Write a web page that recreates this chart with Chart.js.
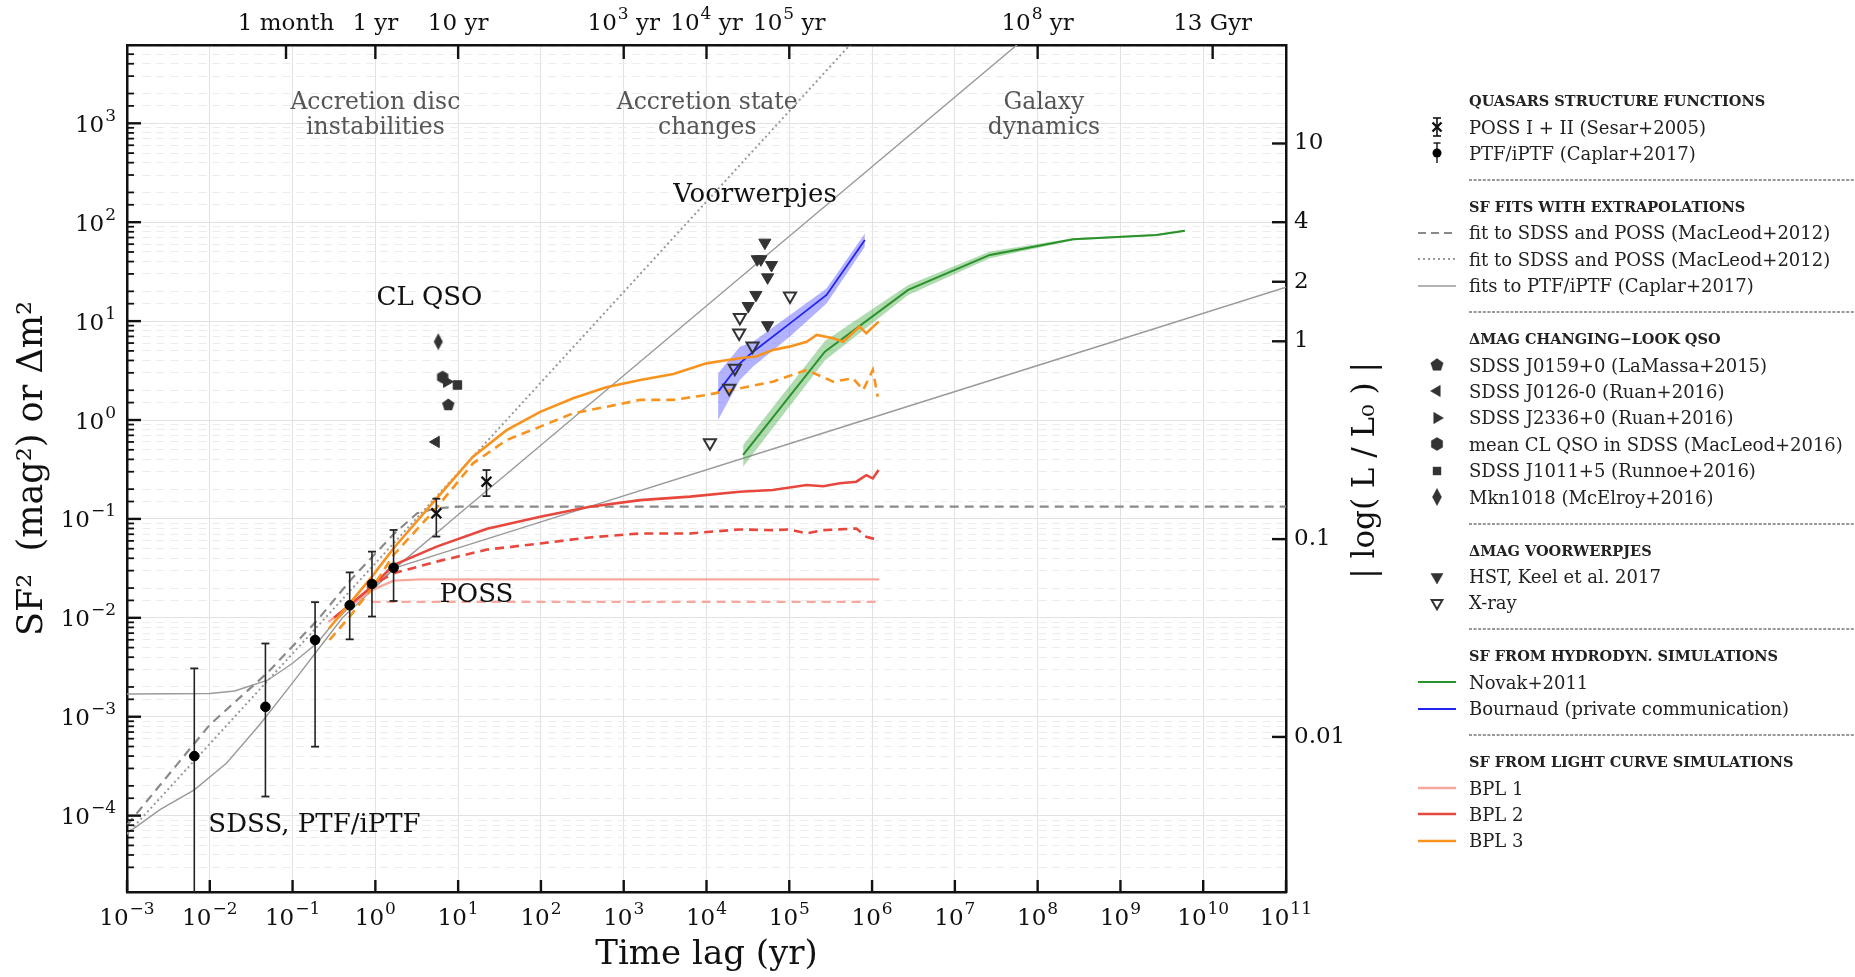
<!DOCTYPE html>
<html>
<head>
<meta charset="utf-8">
<title>Structure functions</title>
<script src="https://cdn.jsdelivr.net/npm/chart.js@4.4.1/dist/chart.umd.min.js"></script>
<style>
  body { margin: 0; background: #fff; }
  #wrap { position: relative; width: 1855px; height: 977px; overflow: hidden; }
  #legend { position: absolute; left: 0; top: 0; font-family: 'DejaVu Serif', serif; color: #222; }
  .row { position: absolute; left: 1414px; height: 26px; display: flex; align-items: center; white-space: nowrap; }
  .row svg.sym { width: 43px; height: 26px; margin-right: 12px; flex: none; }
  .row .txt { font-size: 18px; }
  .row .hdr { font-size: 14.5px; font-weight: bold; margin-left: 55px; }
  .row .sep { margin-left: 55px; }
</style>
</head>
<body>
<div id="wrap">
  <canvas id="sfChart" width="1855" height="977"></canvas>
  <div id="legend"></div>
</div>
<script>
// ============================================================
// Structure function vs. time lag — quasars, CL QSOs, voorwerpjes
// x: time lag (yr), y: SF^2 (mag^2) or dm^2, both logarithmic
// ============================================================

/* ── Axis ranges & ticks ─────────────────────────────────── */
const lagMin = 1e-3, lagMax = 1e11;
const sfMin = 1.69e-5, sfMax = 6190;
const topTickYears  = [1 / 12, 1, 10, 1e3, 1e4, 1e5, 1e8, 1.3e10];
const topTickLabels = ["1 month", "1 yr", "10 yr", "10^3 yr", "10^4 yr", "10^5 yr", "10^8 yr", "13 Gyr"];
const rightTickLogL   = [0.01, 0.1, 1, 2, 4, 10];      // |log(L/L0)|, dm = 2.5 log(L/L0)
const rightTickLabels = ["0.01", "0.1", "1", "2", "4", "10"];

/* ── Measured structure functions ────────────────────────── */
// PTF/iPTF (Caplar+2017)
const ptfLag = [0.0065, 0.047, 0.187, 0.49, 0.91, 1.66];
const ptfSF2 = [4.0e-4, 1.26e-3, 5.97e-3, 0.0134, 0.022, 0.0321];
const ptfLo  = [1e-6, 1.56e-4, 4.98e-4, 6.06e-3, 0.0103, 0.0148];   // first bar runs off the axis
const ptfHi  = [3.08e-3, 5.5e-3, 0.0144, 0.0288, 0.0467, 0.0773];
// POSS I + II (Sesar+2005)
const possLag = [5.45, 22];
const possSF2 = [0.114, 0.238];
const possLo  = [0.0663, 0.170];
const possHi  = [0.160, 0.312];

/* ── SF fits with extrapolations ─────────────────────────── */
const macDashLag = [1e-3, 0.01, 0.05, 0.2, 0.5, 1, 1.7, 3.2, 5.5, 10, 1e11];
const macDashSF2 = [8.0e-5, 8.3e-4, 2.8e-3, 9.5e-3, 0.024, 0.0447, 0.0715, 0.114, 0.128, 0.133, 0.133];
const macDotLag  = [1e-3, 1, 1e6];
const macDotSF2  = [6.5e-5, 0.0356, 1.09e4];
const caplarALag = [1e-3, 2.5e-3, 6.5e-3, 0.016, 0.04, 0.1, 0.2, 0.4, 1, 1.66, 10, 1e3, 1e5, 1e8];
const caplarASF2 = [6.6e-5, 1.15e-4, 1.82e-4, 3.4e-4, 8.3e-4, 2.2e-3, 4.7e-3, 0.010, 0.0204, 0.0309, 0.110, 2.82, 72, 9300];
const caplarBLag = [1e-3, 0.01, 0.02, 0.05, 0.1, 0.2, 0.3, 0.5, 1, 1.66, 100, 1e5, 1e8, 1e11];
const caplarBSF2 = [1.7e-3, 1.72e-3, 1.82e-3, 2.34e-3, 3.47e-3, 5.6e-3, 8.5e-3, 0.0132, 0.0209, 0.0316, 0.0933, 0.575, 3.56, 22.0];

/* ── Changing-look QSOs (dm^2) ───────────────────────────── */
// order: J0159 pentagon, J0126 left tri, J2336 right tri, mean CL hexagon, J1011 square, Mkn1018 diamond
const clLag = [7.6, 5.4, 7.3, 6.5, 9.8, 5.76];
const clDm2 = [1.42, 0.60, 2.44, 2.71, 2.26, 6.2];

/* ── Voorwerpjes (dm^2) ──────────────────────────────────── */
const hstLag  = [5.07e4, 4.1e4, 4.54e4, 6.1e4, 5.47e4, 3.95e4, 3.19e4, 5.47e4];
const hstDm2  = [62.1, 42.2, 42.2, 36.9, 27.7, 18.4, 14.2, 9.1];
const xrayLag = [1.02e5, 2.53e4, 2.48e4, 3.6e4, 2.2e4, 1.88e4, 1.1e4];
const xrayDm2 = [17.9, 10.9, 7.6, 5.6, 3.33, 2.09, 0.59];

/* ── Hydrodynamical simulations ──────────────────────────── */
const novakLag = [2.77e4, 2.69e5, 2.73e6, 2.65e7, 2.69e8, 2.73e9, 6.0e9];
const novakSF2 = [0.443, 4.90, 20.7, 46.7, 67.3, 74.1, 82.0];
const novakHi  = [0.558, 6.3, 23.2, 50.5, 68.9, 75.9, 83.9];
const novakLo  = [0.337, 4.0, 18.4, 43.2, 65.8, 72.4, 80.2];
const bournaudLag = [1.38e4, 2.53e4, 3.66e4, 1.02e5, 2.82e5, 8.18e5];
const bournaudSF2 = [1.93, 3.74, 4.90, 9.48, 18.4, 66.1];
const bournaudHi  = [2.95, 5.50, 6.17, 11.5, 21.4, 77.1];
const bournaudLo  = [1.0, 2.54, 3.47, 6.97, 15.1, 56.6];

/* ── Light curve simulations (solid = SDSS-like, dashed = POSS-like) ── */
const bpl1Lag = [0.27, 0.49, 0.91, 1.66, 3.5, 1.22e6];
const bpl1SF2 = [9.1e-3, 0.013, 0.0191, 0.0238, 0.0245, 0.0245];
const bpl1DashLag = [0.9, 1.22e6];
const bpl1DashSF2 = [0.0145, 0.0145];
const bpl2Lag = [0.316, 0.49, 0.91, 1.66, 5.5, 22.4, 98, 389, 1585, 6310, 2.51e4, 6.3e4, 1.62e5, 2.57e5, 4.07e5, 6.46e5, 8.5e5, 1.02e6, 1.2e6];
const bpl2SF2 = [0.0100, 0.0135, 0.0207, 0.0342, 0.0525, 0.0794, 0.105, 0.133, 0.155, 0.168, 0.188, 0.196, 0.220, 0.214, 0.229, 0.238, 0.277, 0.257, 0.312];
const bpl2DashLag = [0.79, 1.66, 5.5, 22.4, 98, 389, 1585, 6310, 2.51e4, 6.3e4, 1e5, 1.62e5, 2.57e5, 6.46e5, 8.5e5, 1.2e6];
const bpl2DashSF2 = [0.020, 0.0282, 0.037, 0.049, 0.0565, 0.065, 0.0713, 0.0713, 0.0783, 0.077, 0.0783, 0.0713, 0.077, 0.080, 0.066, 0.061];
const bpl3Lag = [0.275, 0.49, 0.91, 1.66, 5.5, 15.1, 38.5, 98, 245, 617, 1585, 3980, 1e4, 1.58e4, 2.51e4, 3.98e4, 6.3e4, 1e5, 1.62e5, 2.14e5, 3.39e5, 4.47e5, 7.08e5, 8.5e5, 1.2e6];
const bpl3SF2 = [7.8e-3, 0.0140, 0.0261, 0.0505, 0.161, 0.426, 0.79, 1.21, 1.66, 2.14, 2.54, 2.92, 3.74, 3.98, 4.21, 4.38, 5.1, 5.52, 6.19, 7.24, 6.70, 6.19, 8.79, 7.53, 9.89];
const bpl3DashLag = [0.279, 0.49, 0.91, 1.66, 5.5, 15.1, 38.5, 98, 245, 617, 1585, 3980, 1e4, 2.51e4, 6.3e4, 1.62e5, 3.39e5, 5.9e5, 7.8e5, 1.02e6, 1.17e6];
const bpl3DashSF2 = [5.97e-3, 0.0103, 0.0199, 0.0432, 0.130, 0.365, 0.628, 0.857, 1.17, 1.36, 1.60, 1.60, 1.79, 2.09, 2.44, 3.21, 2.44, 2.64, 2.01, 3.21, 1.72];

/* ── In-plot labels ──────────────────────────────────────── */
const annotLag  = [1.0, 1.02e4, 1.19e8, 3.85e4, 4.5, 16.6, 0.184];
const annotSF2  = [1600, 1600, 1600, 188, 17, 0.0170, 8.05e-5];
const annotText = [["Accretion disc", "instabilities"], ["Accretion state", "changes"], ["Galaxy", "dynamics"],
                   ["Voorwerpjes"], ["CL QSO"], ["POSS"], ["SDSS, PTF/iPTF"]];
const annotGray = [true, true, true, false, false, false, false];

/* ── Helpers ─────────────────────────────────────────────── */
const FONT = "'DejaVu Serif', serif";
const isDecade = v => Math.abs(Math.log10(v) - Math.round(Math.log10(v))) < 1e-6;
const pts = (xs, ys) => xs.map((x, i) => ({ x, y: ys[i] }));

const ORANGE = "#f7931e", RED = "#e8473d", SALMON = "#f8a79e", GREEN = "#2a922a", BLUE = "#2323f0";
const GRAY = "#9a9a9a", MARK = "#333";

function lineDs(xs, ys, color, width, dash, order) {
  return { data: pts(xs, ys), showLine: true, borderColor: color, borderWidth: width, borderDash: dash || [],
           pointRadius: 0, fill: false, tension: 0, order };
}
function bandDs(xs, hi, lo, color, order) {
  return [
    { data: pts(xs, hi), showLine: true, borderWidth: 0, pointRadius: 0, backgroundColor: color, fill: "+1", order },
    { data: pts(xs, lo), showLine: true, borderWidth: 0, pointRadius: 0, fill: false, order }
  ];
}
function errBars(xs, lo, hi) {
  return xs.map((t, i) => ({ data: [{ x: t, y: lo[i] }, { x: t, y: hi[i] }], showLine: true, borderColor: "#222",
                            borderWidth: 1.6, pointRadius: 0, order: 1 }));
}
function capsDs(xs, lo, hi) {
  return { data: [...pts(xs, lo), ...pts(xs, hi)], pointStyle: "line", pointRadius: 4, pointBorderWidth: 1.8,
           pointBorderColor: "#222", borderColor: "#222", showLine: false, order: 1 };
}
function markDs(xs, ys, style, radius, rotation, open) {
  return { data: pts(xs, ys), pointStyle: style, pointRadius: radius, pointRotation: rotation || 0,
           pointBackgroundColor: open ? "rgba(0,0,0,0)" : MARK, backgroundColor: open ? "rgba(0,0,0,0)" : MARK,
           pointBorderColor: MARK, borderColor: MARK, pointBorderWidth: open ? 2 : 1, showLine: false, order: 0 };
}
// filled polygon marker drawn on a small canvas (pentagon / hexagon / thin diamond)
function polyMarker(n, rx, ry) {
  const c = document.createElement("canvas");
  c.width = c.height = 2 * Math.ceil(Math.max(rx, ry)) + 2;
  const g = c.getContext("2d");
  g.fillStyle = MARK;
  g.beginPath();
  for (let k = 0; k < n; k++) {
    const a = 2 * Math.PI * k / n;
    g.lineTo(c.width / 2 + rx * Math.sin(a), c.height / 2 - ry * Math.cos(a));
  }
  g.closePath();
  g.fill();
  return c;
}

/* ── Datasets ────────────────────────────────────────────── */
const datasets = [
  // CL QSO markers
  markDs([clLag[0]], [clDm2[0]], polyMarker(5, 6.5, 6.5), 6),
  markDs([clLag[1]], [clDm2[1]], "triangle", 6.5, 270),
  markDs([clLag[2]], [clDm2[2]], "triangle", 6.5, 90),
  markDs([clLag[3]], [clDm2[3]], polyMarker(6, 6.5, 6.5), 6),
  markDs([clLag[4]], [clDm2[4]], "rect", 6),
  markDs([clLag[5]], [clDm2[5]], polyMarker(4, 4.5, 8.5), 8),
  // voorwerpjes
  markDs(hstLag, hstDm2, "triangle", 7, 180),
  markDs(xrayLag, xrayDm2, "triangle", 7, 180, true),
  // measured SFs
  { data: pts(ptfLag, ptfSF2), pointStyle: "circle", pointRadius: 4.8, pointBackgroundColor: "#000",
    pointBorderColor: "#000", backgroundColor: "#000", borderColor: "#000", showLine: false, order: 0 },
  { data: pts(possLag, possSF2), pointStyle: "crossRot", pointRadius: 7, pointBorderWidth: 2.4,
    pointBorderColor: "#111", borderColor: "#111", showLine: false, order: 0 },
  capsDs(ptfLag, ptfLo, ptfHi),
  capsDs(possLag, possLo, possHi),
  ...errBars(ptfLag, ptfLo, ptfHi),
  ...errBars(possLag, possLo, possHi),
  // light curve simulations
  lineDs(bpl3Lag, bpl3SF2, ORANGE, 2.6, [], 3),
  lineDs(bpl3DashLag, bpl3DashSF2, ORANGE, 2.6, [9, 6], 3),
  lineDs(bpl2Lag, bpl2SF2, RED, 2.6, [], 4),
  lineDs(bpl2DashLag, bpl2DashSF2, RED, 2.6, [9, 6], 4),
  lineDs(bpl1Lag, bpl1SF2, SALMON, 2.4, [], 5),
  lineDs(bpl1DashLag, bpl1DashSF2, SALMON, 2.4, [9, 6], 5),
  // hydro simulations
  lineDs(bournaudLag, bournaudSF2, BLUE, 1.8, [], 6),
  lineDs(novakLag, novakSF2, GREEN, 2, [], 6),
  ...bandDs(bournaudLag, bournaudHi, bournaudLo, "rgba(95,95,255,0.48)", 7),
  ...bandDs(novakLag, novakHi, novakLo, "rgba(70,170,70,0.42)", 7),
  // fits
  lineDs(macDashLag, macDashSF2, "#8a8a8a", 2.2, [9, 6], 8),
  lineDs(macDotLag, macDotSF2, GRAY, 2, [2, 3], 8),
  lineDs(caplarALag, caplarASF2, GRAY, 1.4, [], 8),
  lineDs(caplarBLag, caplarBSF2, GRAY, 1.4, [], 8)
];

/* ── Tick labels with raised exponents ("10^-3", "10^5 yr") ─ */
function drawPowerLabel(ctx, text, x, y, align) {
  const m = text.match(/^(.*?)\^(\S+)(.*)$/);
  const base = m ? m[1] : text, exp = m ? m[2].replace("-", "−") : "", tail = m ? m[3] : "";
  const big = "23px " + FONT, small = "17px " + FONT;
  ctx.font = big;
  const wBase = ctx.measureText(base).width, wTail = ctx.measureText(tail).width;
  ctx.font = small;
  const wExp = exp ? ctx.measureText(exp).width + 1 : 0;
  const total = wBase + wExp + wTail;
  let x0 = align === "right" ? x - total : x - total / 2;
  ctx.textAlign = "left";
  ctx.textBaseline = "alphabetic";
  ctx.font = big;
  ctx.fillText(base, x0, y);
  if (exp) {
    ctx.font = small;
    ctx.fillText(exp, x0 + wBase + 1, y - 11);
  }
  ctx.font = big;
  ctx.fillText(tail, x0 + wBase + wExp, y);
}

/* ── Plugins: inward tick marks, labels, right-hand title ── */
const axisDecor = {
  id: "axisDecor",
  afterDraw(chart) {
    const { ctx, chartArea: a, scales } = chart;
    const seg = (x1, y1, x2, y2, w) => { ctx.lineWidth = w; ctx.beginPath(); ctx.moveTo(x1, y1); ctx.lineTo(x2, y2); ctx.stroke(); };
    ctx.save();
    ctx.strokeStyle = "#111";
    ctx.fillStyle = "#111";
    scales.x.ticks.forEach(t => {
      if (!isDecade(t.value)) return;
      const p = scales.x.getPixelForValue(t.value);
      seg(p, a.bottom, p, a.bottom - 12, 2.4);
      drawPowerLabel(ctx, "10^" + Math.round(Math.log10(t.value)), p, a.bottom + 33, "center");
    });
    scales.x2.ticks.forEach((t, i) => {
      const p = scales.x2.getPixelForValue(t.value);
      seg(p, a.top, p, a.top + 14, 2.4);
      drawPowerLabel(ctx, topTickLabels[i], p, a.top - 15, "center");
    });
    scales.y.ticks.forEach(t => {
      const p = scales.y.getPixelForValue(t.value);
      if (p < a.top + 2 || p > a.bottom - 2) return;
      const major = isDecade(t.value);
      seg(a.left, p, a.left + (major ? 14 : 7), p, major ? 2.4 : 1.8);
      if (major) drawPowerLabel(ctx, "10^" + Math.round(Math.log10(t.value)), a.left - 11, p + 8.5, "right");
    });
    scales.y2.ticks.forEach(t => {
      const p = scales.y2.getPixelForValue(t.value);
      seg(a.right, p, a.right - 14, p, 2.4);
    });
    // right-hand axis title, read bottom to top
    ctx.translate(a.right + 80, (a.top + a.bottom) / 2 + 2);
    ctx.rotate(-Math.PI / 2);
    ctx.font = "31px " + FONT;
    ctx.textAlign = "center";
    ctx.textBaseline = "middle";
    ctx.fillText("| log( L / L₀ ) |", 0, 0);
    ctx.restore();
  }
};

const annotations = {
  id: "annotations",
  afterDatasetsDraw(chart) {
    const { ctx, scales: { x, y } } = chart;
    ctx.save();
    ctx.textAlign = "center";
    ctx.textBaseline = "middle";
    annotText.forEach((lines, i) => {
      ctx.font = (annotGray[i] ? "23.5px " : "26px ") + FONT;
      ctx.fillStyle = annotGray[i] ? "#555" : "#111";
      const px = x.getPixelForValue(annotLag[i]);
      const py = y.getPixelForValue(annotSF2[i]);
      lines.forEach((s, k) => ctx.fillText(s, px, py + k * 25));
    });
    ctx.restore();
  }
};

/* ── Chart ───────────────────────────────────────────────── */
const frame = { color: "#111", width: 2.5 };

new Chart(document.getElementById("sfChart"), {
  type: "scatter",
  data: { datasets },
  plugins: [annotations, axisDecor],
  options: {
    responsive: false,
    animation: false,
    devicePixelRatio: 1,
    layout: { padding: { left: 0, right: 489, top: 0, bottom: 0 } },
    plugins: { legend: { display: false }, tooltip: { enabled: false } },
    scales: {
      x: {
        type: "logarithmic", position: "bottom", min: lagMin, max: lagMax,
        afterFit: s => { s.height = 85; },
        grid: { color: c => c.tick && isDecade(c.tick.value) ? "#e2e2e2" : "rgba(0,0,0,0)", drawTicks: false },
        border: frame,
        ticks: { display: false },
        title: { display: true, text: "Time lag (yr)", color: "#111", font: { family: FONT, size: 34 }, padding: { top: 0, bottom: 1 } }
      },
      x2: {
        type: "logarithmic", position: "top", min: lagMin, max: lagMax,
        afterBuildTicks: s => { s.ticks = topTickYears.map(v => ({ value: v })); },
        afterFit: s => { s.height = 45; },
        grid: { drawOnChartArea: false, drawTicks: false },
        border: frame,
        ticks: { display: false }
      },
      y: {
        type: "logarithmic", position: "left", min: sfMin, max: sfMax,
        afterFit: s => { s.width = 127; },
        grid: { color: c => !c.tick ? "rgba(0,0,0,0)" : isDecade(c.tick.value) ? "#e2e2e2" : "#ececec", drawTicks: false },
        border: { color: "#111", width: 2.5, dash: c => c.tick && !isDecade(c.tick.value) ? [8, 6] : [] },
        ticks: { display: false },
        title: { display: true, text: "SF²  (mag²) or Δm²", color: "#111", font: { family: FONT, size: 35 }, padding: { top: 12, bottom: 0 } }
      },
      y2: {
        type: "logarithmic", position: "right", min: sfMin, max: sfMax,
        afterBuildTicks: s => { s.ticks = rightTickLogL.map(L => ({ value: Math.pow(2.5 * L, 2) })); },
        afterFit: s => { s.width = 80; },
        grid: { drawOnChartArea: false, drawTicks: false },
        border: frame,
        ticks: { autoSkip: false, padding: 8, color: "#111", font: { family: FONT, size: 23 }, callback: (v, i) => rightTickLabels[i] }
      }
    }
  }
});

/* ── Legend (HTML) ───────────────────────────────────────── */
const legendRows = [
  ["h", "QUASARS STRUCTURE FUNCTIONS"],
  ["poss", "POSS I + II (Sesar+2005)"],
  ["ptf", "PTF/iPTF (Caplar+2017)"],
  ["sep"],
  ["h", "SF FITS WITH EXTRAPOLATIONS"],
  ["dash", "fit to SDSS and POSS (MacLeod+2012)"],
  ["dot", "fit to SDSS and POSS (MacLeod+2012)"],
  ["solid", "fits to PTF/iPTF (Caplar+2017)"],
  ["sep"],
  ["h", "ΔMAG CHANGING−LOOK QSO"],
  ["pent", "SDSS J0159+0 (LaMassa+2015)"],
  ["tril", "SDSS J0126-0 (Ruan+2016)"],
  ["trir", "SDSS J2336+0 (Ruan+2016)"],
  ["hex", "mean CL QSO in SDSS (MacLeod+2016)"],
  ["sq", "SDSS J1011+5 (Runnoe+2016)"],
  ["dia", "Mkn1018 (McElroy+2016)"],
  ["sep"],
  ["h", "ΔMAG VOORWERPJES"],
  ["trid", "HST, Keel et al. 2017"],
  ["trio", "X-ray"],
  ["sep"],
  ["h", "SF FROM HYDRODYN. SIMULATIONS"],
  ["green", "Novak+2011"],
  ["blue", "Bournaud (private communication)"],
  ["sep"],
  ["h", "SF FROM LIGHT CURVE SIMULATIONS"],
  ["bpl1", "BPL 1"],
  ["bpl2", "BPL 2"],
  ["bpl3", "BPL 3"]
];

function polyPts(n, rx, ry, rot) {
  const out = [];
  for (let k = 0; k < n; k++) {
    const a = rot + 2 * Math.PI * k / n;
    out.push((23 + rx * Math.sin(a)).toFixed(2) + "," + (13 - ry * Math.cos(a)).toFixed(2));
  }
  return out.join(" ");
}
const hline = (color, w, dash) => `<line x1="4" y1="13" x2="42" y2="13" stroke="${color}" stroke-width="${w}" ${dash ? `stroke-dasharray="${dash}"` : ""}/>`;
const poly = (p, open) => `<polygon points="${p}" fill="${open ? "none" : MARK}" stroke="${MARK}" stroke-width="${open ? 2 : 0.5}"/>`;
const SYM = {
  poss: `<g stroke="#111" stroke-width="1.6"><line x1="23" y1="4" x2="23" y2="22"/><line x1="19" y1="4" x2="27" y2="4"/><line x1="19" y1="22" x2="27" y2="22"/><path d="M18.5 8.5 L27.5 17.5 M27.5 8.5 L18.5 17.5" stroke-width="2.4"/></g>`,
  ptf: `<g stroke="#111" stroke-width="1.4"><line x1="23" y1="3" x2="23" y2="23"/><line x1="19.5" y1="3" x2="26.5" y2="3"/></g><circle cx="23" cy="13" r="4.5" fill="#000"/>`,
  dash: hline("#8a8a8a", 2, "8 5"),
  dot: hline(GRAY, 2, "2 3"),
  solid: hline(GRAY, 1.4),
  pent: poly(polyPts(5, 6.5, 6.5, 0)),
  tril: poly(polyPts(3, 6.5, 6.5, -Math.PI / 2)),
  trir: poly(polyPts(3, 6.5, 6.5, Math.PI / 2)),
  hex: poly(polyPts(6, 6.5, 6.5, 0)),
  sq: `<rect x="18.8" y="8.8" width="8.4" height="8.4" fill="${MARK}"/>`,
  dia: poly(polyPts(4, 4.5, 8.5, 0)),
  trid: poly(polyPts(3, 7, 7, Math.PI)),
  trio: poly(polyPts(3, 6.2, 6.2, Math.PI), true),
  green: hline(GREEN, 2),
  blue: hline(BLUE, 2),
  bpl1: hline(SALMON, 2.6),
  bpl2: hline(RED, 2.6),
  bpl3: hline(ORANGE, 2.6)
};

const legendEl = document.getElementById("legend");
legendRows.forEach((r, i) => {
  const row = document.createElement("div");
  row.className = "row";
  row.style.top = (87.6 + i * 26.44) + "px";
  if (r[0] === "h") {
    row.innerHTML = `<span class="hdr">${r[1]}</span>`;
  } else if (r[0] === "sep") {
    row.innerHTML = `<svg class="sep" width="386" height="4"><line x1="0" y1="2" x2="386" y2="2" stroke="#333" stroke-width="1.2" stroke-dasharray="3 1.6"/></svg>`;
  } else {
    row.innerHTML = `<svg class="sym" viewBox="0 0 43 26">${SYM[r[0]]}</svg><span class="txt">${r[1]}</span>`;
  }
  legendEl.appendChild(row);
});
</script>
</body>
</html>
